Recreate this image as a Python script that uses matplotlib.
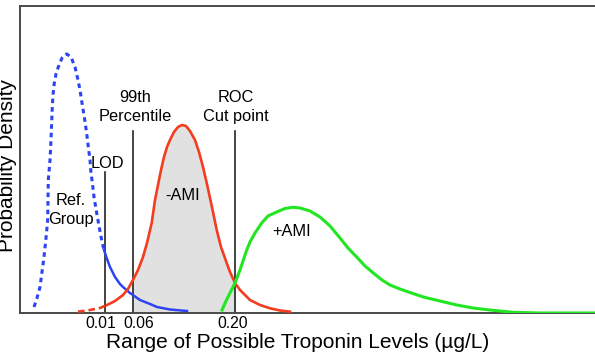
import numpy as np
import matplotlib.pyplot as plt
import matplotlib.transforms as mtransforms

plt.rcParams["font.family"] = ["Liberation Sans", "DejaVu Sans"]

# === Curve data (position along troponin axis, relative density) ===
ref_x = [34, 37, 40, 42, 44, 46, 47.7, 48, 48.3, 50, 51, 52.3, 53, 54.3, 56, 58.3,
         62, 66.7, 71, 75, 78, 80, 82, 84.3, 86.5, 88.3, 90, 91, 92, 94, 96.7, 99,
         102, 104]
ref_y = [6, 15, 26, 41, 56, 75, 93, 113, 133, 153, 173, 206, 218, 230, 239, 246,
         255, 259, 256, 246, 233, 223, 210, 196, 181, 166, 153, 140, 133, 116, 100, 87,
         71, 63]
ref_tail_x = [104, 107, 110, 115, 120, 123, 130, 140, 150, 157, 170, 187]
ref_tail_y = [63, 54, 46, 36, 29, 26, 20, 13, 9, 6, 3.5, 2]

neg_head_x = [78, 90, 100, 107]
neg_head_y = [1.3, 3, 5, 8]
neg_x = [107, 115, 123, 128, 133, 138, 143, 147, 151.7, 155, 157, 160, 161.7, 164,
         167, 170, 174, 178, 182, 186, 190, 195, 199, 203, 206.5, 210, 213, 216.7,
         221, 226.7, 230, 235, 240, 250, 260, 270, 280, 290]
neg_y = [8, 12, 18, 24, 33, 43, 56, 70, 90, 113, 123, 138, 146, 156,
         166, 173, 181, 186, 188, 187, 182, 173, 161, 146, 131, 115, 101, 83,
         66, 50, 41, 30, 23, 13, 8, 4.7, 2.5, 1.3]

pos_x = [222, 226, 230, 235, 240, 246.7, 250, 255, 261.7, 268, 276.7, 285, 293, 300,
         310, 320, 330, 340, 348, 356.7, 365, 373.3, 382, 390, 400, 410, 423.3, 440,
         456.7, 473, 490, 513, 540, 600]
pos_y = [3, 12, 20, 30, 43, 63, 71, 80, 90, 97, 101, 104.5, 105.7, 105,
         102, 96, 87, 75, 65, 56, 47, 40, 33, 28, 24, 20.5, 16, 12,
         8, 5, 3, 0.7, 0, 0]

# cut-off lines: LOD, 99th percentile, ROC cut point
cut_x = [105, 133, 235]
cut_top = [141, 182, 182]
cut_labels = ["0.01", "0.06", "0.20"]
label_nudge = [-4.5, 6, -2]  # px, keeps 0.01/0.06 from colliding

blue = "#2d44f2"
red = "#f43c1e"
green = "#22e622"

fig = plt.figure(figsize=(5.95, 3.58), dpi=100)
ax = fig.add_axes([20 / 595, 45 / 358, 580 / 595, 307.5 / 358])

# shaded -AMI region between 99th percentile and ROC cut point
nx = np.array(neg_x)
ny = np.array(neg_y)
ax.fill_between(nx, ny, where=(nx >= cut_x[1]) & (nx <= cut_x[2]),
                color="#e1e1e1", lw=0, zorder=1)

for x, top in zip(cut_x, cut_top):
    ax.plot([x, x], [0, top], color="#111111", lw=1.1, zorder=2)

ax.plot(ref_x, ref_y, color=blue, lw=2.2, ls=(0, (1.5, 1.3)), zorder=3)
ax.plot(ref_tail_x, ref_tail_y, color=blue, lw=1.8, zorder=3)
ax.plot(neg_head_x, neg_head_y, color=red, lw=1.9, ls=(0, (2.5, 1.5)), zorder=3)
ax.plot(neg_x, neg_y, color=red, lw=1.9, zorder=3)
ax.plot(pos_x, pos_y, color=green, lw=2.2, zorder=3)

# annotations
fs = 11.8
ax.text(135.5, 206, "99th\nPercentile", ha="center", va="center", fontsize=fs, linespacing=1.3)
ax.text(236, 206, "ROC\nCut point", ha="center", va="center", fontsize=fs, linespacing=1.3)
ax.text(107.5, 150, "LOD", ha="center", va="center", fontsize=fs)
ax.text(71, 103, "Ref.\nGroup", ha="center", va="center", fontsize=fs, linespacing=1.3)
ax.text(182.5, 118, "-AMI", ha="center", va="center", fontsize=fs)
ax.text(292, 81, "+AMI", ha="center", va="center", fontsize=fs)

ax.set_xlim(20, 600)
ax.set_ylim(0, 307.5)
ax.set_xticks([])
ax.set_yticks([])

# cut-off values under the axis, nudged sideways so they don't collide
base = ax.get_xaxis_transform()
for x, lab, dx in zip(cut_x, cut_labels, label_nudge):
    shift = mtransforms.ScaledTranslation(dx / 100, -11 / 100, fig.dpi_scale_trans)
    ax.text(x, 0, lab, transform=base + shift, ha="center", va="center",
            fontsize=11.3, clip_on=False)

for side in ["top", "bottom", "left", "right"]:
    ax.spines[side].set_color("#4a4a4a")
    ax.spines[side].set_linewidth(1.4)

ax.set_xlabel("Range of Possible Troponin Levels (µg/L)", fontsize=15)
ax.xaxis.set_label_coords((298 - 20) / 580, -0.065)
ax.set_ylabel("Probability Density", fontsize=15)
ax.yaxis.set_label_coords(-0.005, 0.481)

plt.savefig("out.png", dpi=100)
